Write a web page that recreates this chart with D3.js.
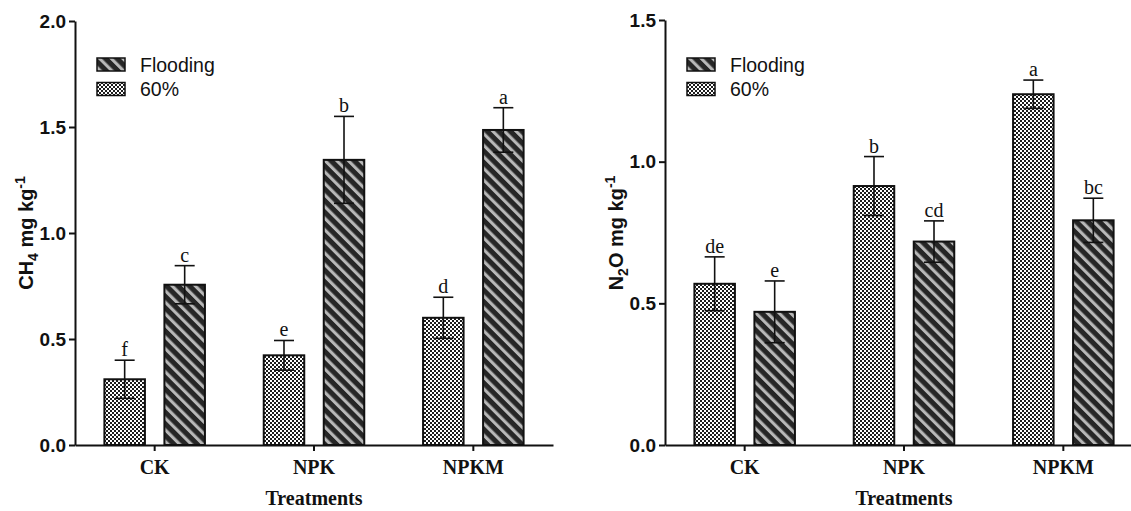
<!DOCTYPE html>
<html>
<head>
<meta charset="utf-8">
<script src="https://cdn.jsdelivr.net/npm/d3@7"></script>
<style>
  body { margin: 0; background: #fff; }
  svg { display: block; }
</style>
</head>
<body>
<svg id="chart"></svg>
<script>
const treatments = ["CK", "NPK", "NPKM"];
const seriesNames = ["60%", "Flooding"];
const legendOrder = ["Flooding", "60%"];

// CH4 panel
const ch4Mean60 = [0.31, 0.423, 0.60];
const ch4Err60 = [0.09, 0.07, 0.097];
const ch4MeanFlood = [0.756, 1.345, 1.486];
const ch4ErrFlood = [0.09, 0.205, 0.105];
const ch4Letters60 = ["f", "e", "d"];
const ch4LettersFlood = ["c", "b", "a"];
const ch4Ticks = [0, 0.5, 1.0, 1.5, 2.0];

// N2O panel
const n2oMean60 = [0.569, 0.914, 1.238];
const n2oErr60 = [0.095, 0.104, 0.05];
const n2oMeanFlood = [0.47, 0.718, 0.793];
const n2oErrFlood = [0.109, 0.073, 0.078];
const n2oLetters60 = ["de", "b", "a"];
const n2oLettersFlood = ["e", "cd", "bc"];
const n2oTicks = [0, 0.5, 1.0, 1.5];

const W = 1131, H = 511;
const svg = d3.select("#chart").attr("width", W).attr("height", H);

// patterns
const defs = svg.append("defs");
const hatch = defs.append("pattern")
  .attr("id", "hatch")
  .attr("patternUnits", "userSpaceOnUse")
  .attr("width", 8.2).attr("height", 8.2)
  .attr("patternTransform", "rotate(-45)");
hatch.append("rect").attr("width", 8.2).attr("height", 8.2).attr("fill", "#262626");
hatch.append("rect").attr("x", 0).attr("width", 3.1).attr("height", 8.2).attr("fill", "#b8b8b8");

const check = defs.append("pattern")
  .attr("id", "check")
  .attr("patternUnits", "userSpaceOnUse")
  .attr("width", 4).attr("height", 4);
check.append("rect").attr("width", 4).attr("height", 4).attr("fill", "#fff");
check.append("rect").attr("width", 2).attr("height", 2).attr("fill", "#1c1c1c");
check.append("rect").attr("x", 2).attr("y", 2).attr("width", 2).attr("height", 2).attr("fill", "#1c1c1c");

const fills = { "60%": "url(#check)", "Flooding": "url(#hatch)" };

function drawPanel(p) {
  const g = svg.append("g");
  const y = d3.scaleLinear().domain([0, p.ymax]).range([445, p.top]);
  const x0 = d3.scaleBand().domain(treatments).range([p.left, p.left + 478]);
  const x1 = d3.scaleBand().domain(seriesNames).range([0, x0.bandwidth()])
    .paddingInner(0.325).paddingOuter(0.49);

  const rows = [];
  treatments.forEach((t, i) => {
    rows.push({ t, s: "60%", v: p.mean60[i], e: p.err60[i], l: p.letters60[i] });
    rows.push({ t, s: "Flooding", v: p.meanFlood[i], e: p.errFlood[i], l: p.lettersFlood[i] });
  });

  // bars
  g.selectAll("rect.bar")
    .data(rows)
    .enter()
    .append("rect")
    .attr("class", "bar")
    .attr("x", d => x0(d.t) + x1(d.s))
    .attr("y", d => y(d.v))
    .attr("width", x1.bandwidth())
    .attr("height", d => y(0) - y(d.v))
    .attr("fill", d => fills[d.s])
    .attr("stroke", "#111")
    .attr("stroke-width", 2);

  // error bars
  const cx = d => x0(d.t) + x1(d.s) + x1.bandwidth() / 2;
  const eb = g.selectAll("g.err").data(rows).enter().append("g")
    .attr("stroke", "#111").attr("stroke-width", 1.6);
  eb.append("line")
    .attr("x1", cx).attr("x2", cx)
    .attr("y1", d => y(d.v + d.e)).attr("y2", d => y(d.v - d.e));
  eb.append("line")
    .attr("x1", d => cx(d) - 10).attr("x2", d => cx(d) + 10)
    .attr("y1", d => y(d.v + d.e)).attr("y2", d => y(d.v + d.e));
  eb.append("line")
    .attr("x1", d => cx(d) - 10).attr("x2", d => cx(d) + 10)
    .attr("y1", d => y(d.v - d.e)).attr("y2", d => y(d.v - d.e));

  // significance letters
  g.selectAll("text.letter").data(rows).enter().append("text")
    .attr("x", cx)
    .attr("y", d => y(d.v + d.e) - 4)
    .attr("text-anchor", "middle")
    .style("font-family", "'Liberation Serif', serif")
    .style("font-size", "20px")
    .attr("fill", "#111")
    .text(d => d.l);

  // y axis
  const yAxis = g.append("g")
    .attr("transform", `translate(${p.left},0)`)
    .call(d3.axisLeft(y).tickValues(p.ticks).tickFormat(d3.format(".1f")).tickSize(6).tickSizeOuter(0));
  yAxis.select(".domain").attr("stroke", "#111").attr("stroke-width", 2);
  yAxis.selectAll(".tick line").attr("stroke", "#111").attr("stroke-width", 2);
  yAxis.selectAll(".tick text")
    .attr("x", -9)
    .style("font-family", "'Liberation Sans', Arial, sans-serif")
    .style("font-weight", "bold")
    .style("font-size", "19px")
    .attr("fill", "#111");

  // x axis
  const xAxis = g.append("g")
    .attr("transform", "translate(0,445)")
    .call(d3.axisBottom(x0).tickSize(6).tickSizeOuter(0));
  xAxis.select(".domain").attr("stroke", "#111").attr("stroke-width", 2);
  xAxis.selectAll(".tick line").attr("stroke", "#111").attr("stroke-width", 2);
  xAxis.selectAll(".tick text")
    .attr("y", 15)
    .style("font-family", "'Liberation Serif', serif")
    .style("font-weight", "bold")
    .style("font-size", "20px")
    .attr("fill", "#111");

  // x title
  g.append("text")
    .attr("x", p.left + 239)
    .attr("y", 505)
    .attr("text-anchor", "middle")
    .style("font-family", "'Liberation Serif', serif")
    .style("font-weight", "bold")
    .style("font-size", "20px")
    .attr("fill", "#111")
    .text("Treatments");

  // y title
  const yt = g.append("text")
    .attr("transform", `translate(${p.left - 42},233) rotate(-90)`)
    .attr("text-anchor", "middle")
    .style("font-family", "'Liberation Sans', Arial, sans-serif")
    .style("font-weight", "bold")
    .style("font-size", "20px")
    .attr("fill", "#111");
  yt.append("tspan").text(p.titleMain);
  yt.append("tspan").attr("dy", 5).style("font-size", "14px").text(p.titleSub);
  yt.append("tspan").attr("dy", -5).text(p.titleRest);
  yt.append("tspan").attr("dy", -8).style("font-size", "14px").text("-1");

  // legend
  const lg = g.append("g").attr("transform", `translate(${p.legendX},58)`);
  legendOrder.forEach((s, i) => {
    lg.append("rect")
      .attr("x", 0).attr("y", i * 24.5)
      .attr("width", 28).attr("height", 13)
      .attr("fill", fills[s])
      .attr("stroke", "#111").attr("stroke-width", 1.5);
    lg.append("text")
      .attr("x", 43).attr("y", i * 24.5 + 13.5)
      .style("font-family", "'Liberation Sans', Arial, sans-serif")
      .style("font-size", "19.5px")
      .attr("fill", "#111")
      .text(s);
  });
}

drawPanel({
  left: 75, top: 21, ymax: 2.0, ticks: ch4Ticks,
  mean60: ch4Mean60, err60: ch4Err60, meanFlood: ch4MeanFlood, errFlood: ch4ErrFlood,
  letters60: ch4Letters60, lettersFlood: ch4LettersFlood,
  titleMain: "CH", titleSub: "4", titleRest: " mg kg", legendX: 97
});

drawPanel({
  left: 665, top: 20, ymax: 1.5, ticks: n2oTicks,
  mean60: n2oMean60, err60: n2oErr60, meanFlood: n2oMeanFlood, errFlood: n2oErrFlood,
  letters60: n2oLetters60, lettersFlood: n2oLettersFlood,
  titleMain: "N", titleSub: "2", titleRest: "O mg kg", legendX: 687
});
</script>
</body>
</html>
